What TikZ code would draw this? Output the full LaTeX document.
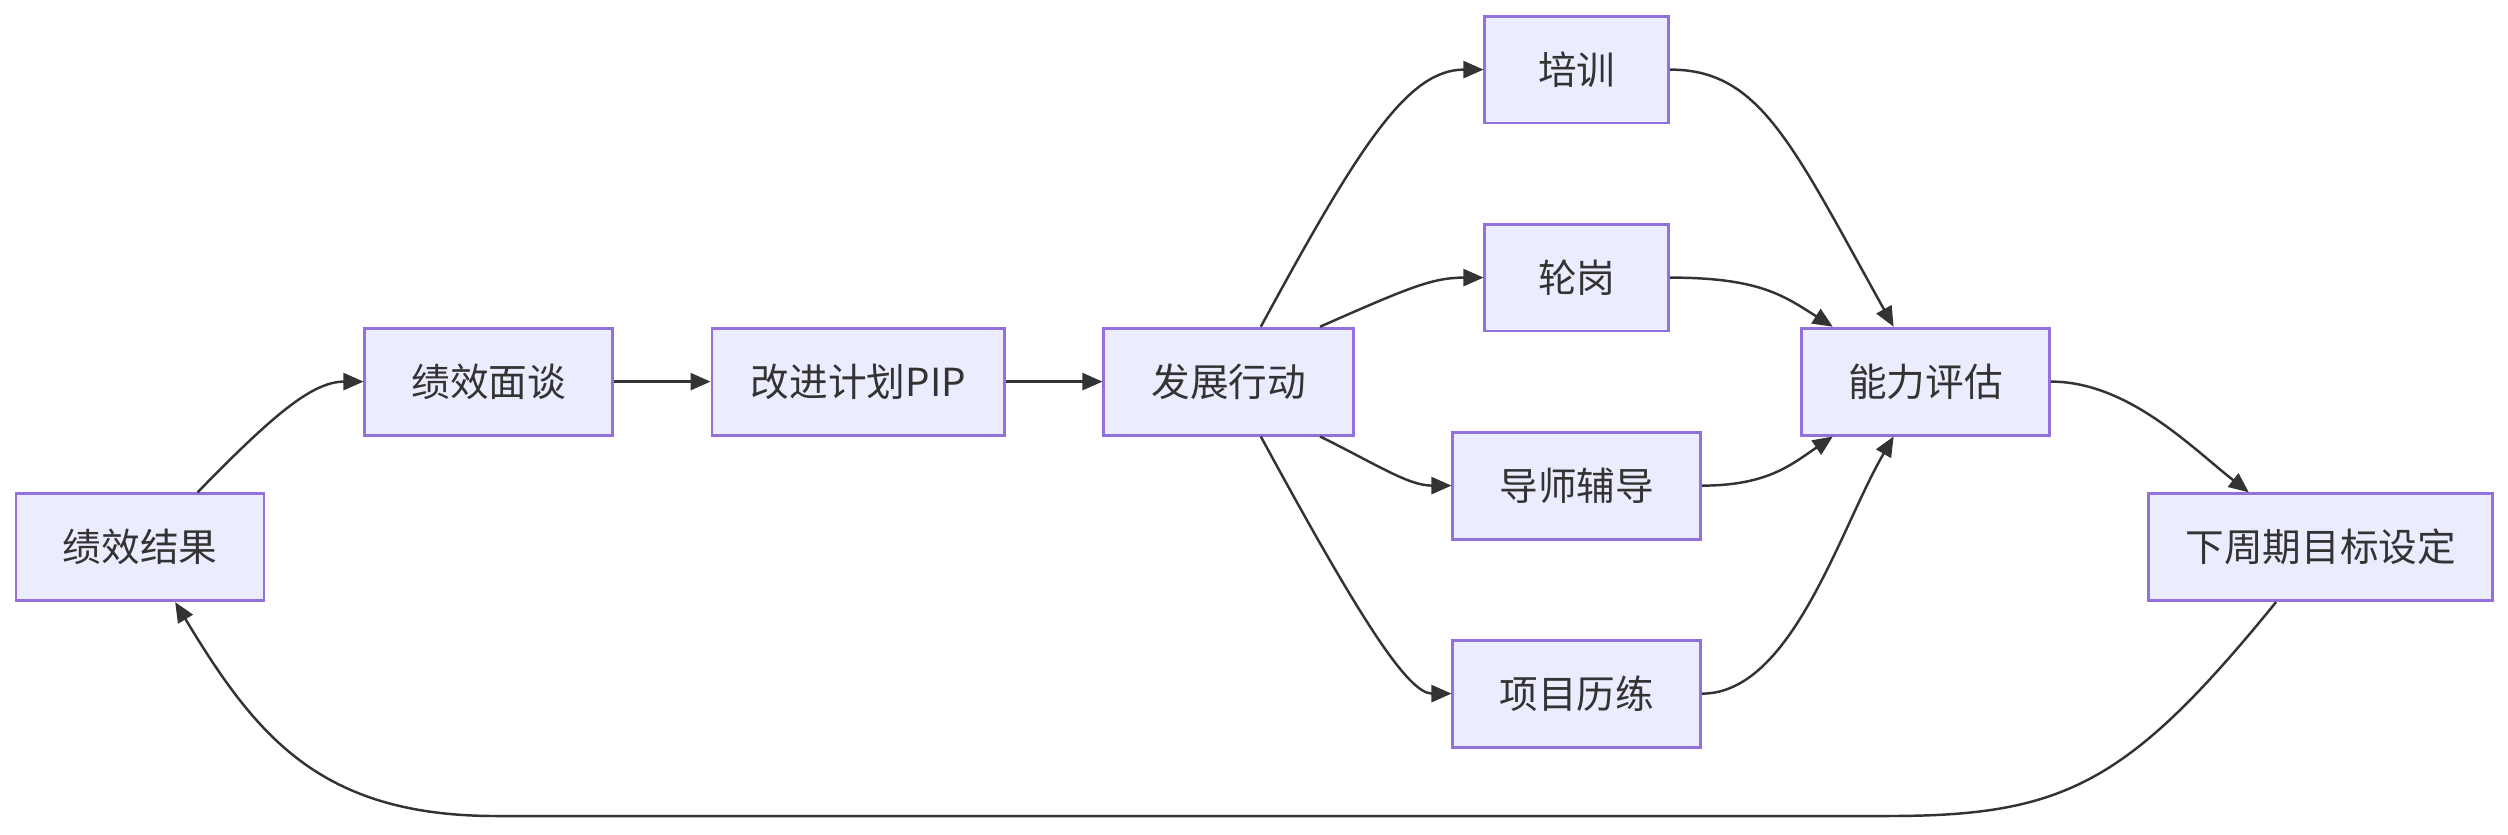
\documentclass[tikz,border=0pt]{standalone}
\usepackage{fontspec}
\setmainfont{Noto Sans CJK SC}
\usetikzlibrary{arrows.meta,calc}
\begin{document}
\begin{tikzpicture}[x=0.016cm,y=-0.016cm,
  box/.style={draw=mmborder,fill=mmfill,line width=0.8pt,minimum height=1.07cm,inner sep=0pt,text=mmtext,font=\fontsize{11}{13}\selectfont},
  link/.style={draw=mmline,line width=0.7pt,-{Triangle[length=0.2cm,width=0.17cm]}}]
\definecolor{mmfill}{HTML}{ECECFF}
\definecolor{mmborder}{HTML}{9370DB}
\definecolor{mmtext}{HTML}{333333}
\definecolor{mmline}{HTML}{333333}
\useasboundingbox (0,0) rectangle (1567.5,521.25);
\node[box,minimum width=2.48cm] (jg) at (87.5,342) {绩效结果};
\node[box,minimum width=2.48cm] (mt) at (305.5,238.5) {绩效面谈};
\node[box,minimum width=2.93cm] (pip) at (536.5,238.5) {改进计划PIP};
\node[box,minimum width=2.5cm] (fz) at (768,238.5) {发展行动};
\node[box,minimum width=1.84cm] (px) at (985.5,43.5) {培训};
\node[box,minimum width=1.84cm] (lg) at (985.5,173.5) {轮岗};
\node[box,minimum width=2.48cm] (ds) at (985.5,303.5) {导师辅导};
\node[box,minimum width=2.48cm] (xm) at (985.5,433.5) {项目历练};
\node[box,minimum width=2.48cm] (nl) at (1203.5,238.5) {能力评估};
\node[box,minimum width=3.44cm] (xz) at (1450.5,342) {下周期目标设定};
\draw[link] ($(jg.north)+(36,0)$) .. controls (170,260) and (195,238.5) .. (mt.west);
\draw[link] (mt.east) -- (pip.west);
\draw[link] (pip.east) -- (fz.west);
\draw[link] ($(fz.north)+(20,0)$) .. controls (850,90) and (880,43.5) .. (px.west);
\draw[link] ($(fz.north)+(57,0)$) .. controls (880,180) and (895,173.5) .. (lg.west);
\draw[link] ($(fz.south)+(57,0)$) .. controls (860,290) and (880,303.5) .. (ds.west);
\draw[link] ($(fz.south)+(20,0)$) .. controls (850,387) and (880,433.5) .. (xm.west);
\draw[link] (px.east) .. controls (1100,43.5) and (1120,90) .. ($(nl.north)+(-20,0)$);
\draw[link] (lg.east) .. controls (1100,173.5) and (1115,185) .. ($(nl.north)+(-58,0)$);
\draw[link] (ds.east) .. controls (1105,303.5) and (1120,290) .. ($(nl.south)+(-58,0)$);
\draw[link] (xm.east) .. controls (1120,433.5) and (1150,330) .. ($(nl.south)+(-20,0)$);
\draw[link] (nl.east) .. controls (1330,238.5) and (1370,280) .. ($(xz.north)+(-45,0)$);
\draw[link] ($(xz.south)+(-28,0)$) .. controls (1330,490) and (1290,510) .. (1180,510) -- (310,510) .. controls (200,510) and (160,460) .. ($(jg.south)+(22,0)$);
\end{tikzpicture}
\end{document}
